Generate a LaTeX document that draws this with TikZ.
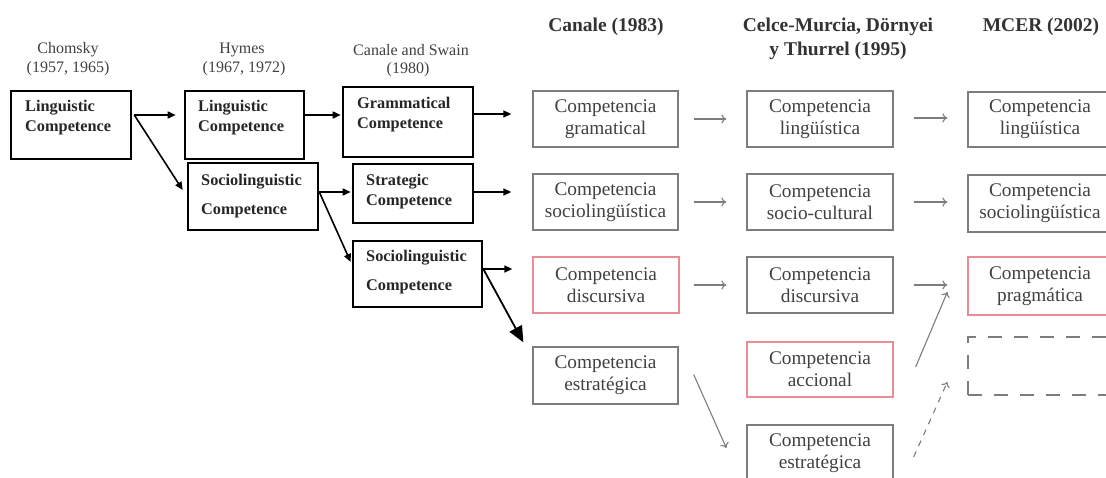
\documentclass[tikz,border=0pt]{standalone}
\usepackage{fontspec}
\setmainfont{Liberation Serif}
\usetikzlibrary{arrows.meta}
\definecolor{boxgray}{RGB}{125,125,125}
\definecolor{txtgray}{RGB}{65,65,65}
\definecolor{boxred}{RGB}{232,140,150}
\begin{document}
\begin{tikzpicture}[x=1pt,y=-1pt,
 lbox/.style={draw=black, line width=2.6pt, inner sep=0pt},
 ltxt/.style={font=\fontsize{16.3}{20}\selectfont\bfseries, align=left, inner sep=0pt, anchor=west, text=black!85},
 ttl/.style={font=\fontsize{16}{19}\selectfont, text=txtgray, inner sep=0pt},
 hdr/.style={font=\fontsize{19.5}{22}\selectfont\bfseries, text=black!80, inner sep=0pt},
 rbox/.style={draw=boxgray, line width=1.3pt, inner sep=0pt, align=center, font=\fontsize{19.3}{22}\selectfont, text=txtgray},
 redbox/.style={rbox, draw=boxred},
 dbox/.style={rbox, dash pattern=on 14pt off 12pt},
 larr/.style={line width=1.6pt, -{Triangle[length=8pt,width=7pt]}},
 rarr/.style={draw=boxgray, line width=1.1pt, -{To[length=5pt,width=9pt]}},
]
\useasboundingbox (0,0) rectangle (1106,478);
\clip (0,0) rectangle (1106,478);
\fill[white] (0,0) rectangle (1106,478);

% titles left
\node[ttl] (t1a) at (68,50) {Chomsky};
\node[ttl] (t1b) at (68,69) {(1957, 1965)};
\node[ttl] (t2a) at (242,50) {Hymes};
\node[ttl] (t2b) at (244,69) {(1967, 1972)};
\node[ttl] (t3a) at (411,50) {Canale and Swain};
\node[ttl] (t3b) at (408,70) {(1980)};

% headers right
\node[hdr] (h1) at (606,27) {Canale (1983)};
\node[hdr] (h2a) at (838,27) {Celce-Murcia, Dörnyei};
\node[hdr] (h2b) at (838,51) {y Thurrel (1995)};
\node[hdr] (h3) at (1041,27) {MCER (2002)};

% left boxes
\node[lbox, minimum width=120pt, minimum height=68pt] (chom) at (71,125) {};
\node[lbox, minimum width=119pt, minimum height=68pt] (hymL) at (244.5,125) {};
\node[lbox, minimum width=130pt, minimum height=67pt] (hymS) at (253,196.5) {};
\node[lbox, minimum width=130pt, minimum height=70pt] (csG) at (408,122) {};
\node[lbox, minimum width=120pt, minimum height=59pt] (csS) at (413,193.5) {};
\node[lbox, minimum width=129pt, minimum height=66pt] (csSo) at (417.5,274) {};

\node[ltxt] (chomT) at (25,118) {Linguistic\\Competence};
\node[ltxt] (hymLT) at (198,118) {Linguistic\\Competence};
\node[ltxt, font=\fontsize{16.3}{29}\selectfont\bfseries] (hymST) at (201,196.5) {Sociolinguistic\\Competence};
\node[ltxt] (csGT) at (357,115) {Grammatical\\Competence};
\node[ltxt] (csST) at (366,192) {Strategic\\Competence};
\node[ltxt, font=\fontsize{16.3}{29}\selectfont\bfseries] (csSoT) at (366,272.5) {Sociolinguistic\\Competence};

% right boxes
\node[rbox, minimum width=145pt, minimum height=56pt] (c1) at (605.5,119) {Competencia\\gramatical};
\node[rbox, minimum width=145pt, minimum height=56pt] (c2) at (605.5,202) {Competencia\\sociolingüística};
\node[redbox, minimum width=146pt, minimum height=56pt] (c3) at (606,285) {Competencia\\discursiva};
\node[rbox, minimum width=145pt, minimum height=57pt] (c4) at (605.5,375.5) {Competencia\\estratégica};

\node[rbox, minimum width=146pt, minimum height=56pt] (m1) at (820,119) {Competencia\\lingüística};
\node[rbox, minimum width=146pt, minimum height=56pt] (m2) at (820,202) {Competencia\\socio-cultural};
\node[rbox, minimum width=146pt, minimum height=56pt] (m3) at (820,285) {Competencia\\discursiva};
\node[redbox, minimum width=146pt, minimum height=55pt] (m4) at (820,369.5) {Competencia\\accional};
\node[rbox, minimum width=146pt, minimum height=57pt] (m5) at (820,453.5) {Competencia\\estratégica};

\node[rbox, minimum width=144pt, minimum height=55pt] (r1) at (1040,119.5) {Competencia\\lingüística};
\node[rbox, minimum width=144pt, minimum height=57pt] (r2) at (1040,203.5) {Competencia\\sociolingüística};
\node[redbox, minimum width=144pt, minimum height=58pt] (r3) at (1040,286) {Competencia\\pragmática};
\node[dbox, minimum width=144pt, minimum height=58pt] (r4) at (1040,366) {};

% left connectors
\draw[larr] ([xshift=2pt,yshift=10pt]chom.east) -- ([xshift=-8pt,yshift=10pt]hymL.west);
\draw[larr] ([xshift=2pt,yshift=10pt]chom.east) -- ([xshift=-4pt,yshift=6.5pt]hymS.west);
\draw[larr] ([yshift=10pt]hymL.east) -- ([xshift=-1pt,yshift=7pt]csG.west);
\draw[larr] ([yshift=4.5pt]hymS.east) -- ([xshift=-1pt,yshift=1.5pt]csS.west);
\draw[larr] ([yshift=4.5pt]hymS.east) -- ([xshift=-1pt,yshift=12pt]csSo.west);
\draw[larr] ([yshift=8pt]csG.east) -- ([xshift=-21pt,yshift=5pt]c1.west);
\draw[larr] ([yshift=1.5pt]csS.east) -- ([xshift=-21pt,yshift=10pt]c2.west);
\draw[larr] ([yshift=5pt]csSo.east) -- ([xshift=-20pt,yshift=16pt]c3.west);
\draw[line width=1.8pt, -{Triangle[length=16pt,width=14pt]}] ([yshift=5pt]csSo.east) -- ([xshift=-9pt,yshift=4pt]c4.north west);

% right connectors
\draw[rarr] ([xshift=15pt]c1.east) -- ([xshift=-20pt]m1.west);
\draw[rarr] ([xshift=15pt]c2.east) -- ([xshift=-20pt]m2.west);
\draw[rarr] ([xshift=14pt]c3.east) -- ([xshift=-20pt]m3.west);
\draw[rarr] ([xshift=15pt,yshift=1pt]c4.east) -- ([xshift=-20pt,yshift=5.5pt]m5.west);
\draw[rarr] ([xshift=20pt,yshift=1pt]m1.east) -- ([xshift=-20pt,yshift=1.5pt]r1.west);
\draw[rarr] ([xshift=20pt]m2.east) -- ([xshift=-20pt,yshift=1.5pt]r2.west);
\draw[rarr] ([xshift=20pt]m3.east) -- ([xshift=-20pt,yshift=1pt]r3.west);
\draw[rarr] ([xshift=22pt,yshift=2.5pt]m4.east) -- ([xshift=-20pt,yshift=-6pt]r3.west);
\draw[rarr, dash pattern=on 6pt off 6pt] ([xshift=20pt,yshift=-3.5pt]m5.east) -- ([xshift=-20pt,yshift=-16pt]r4.west);
\end{tikzpicture}
\end{document}
